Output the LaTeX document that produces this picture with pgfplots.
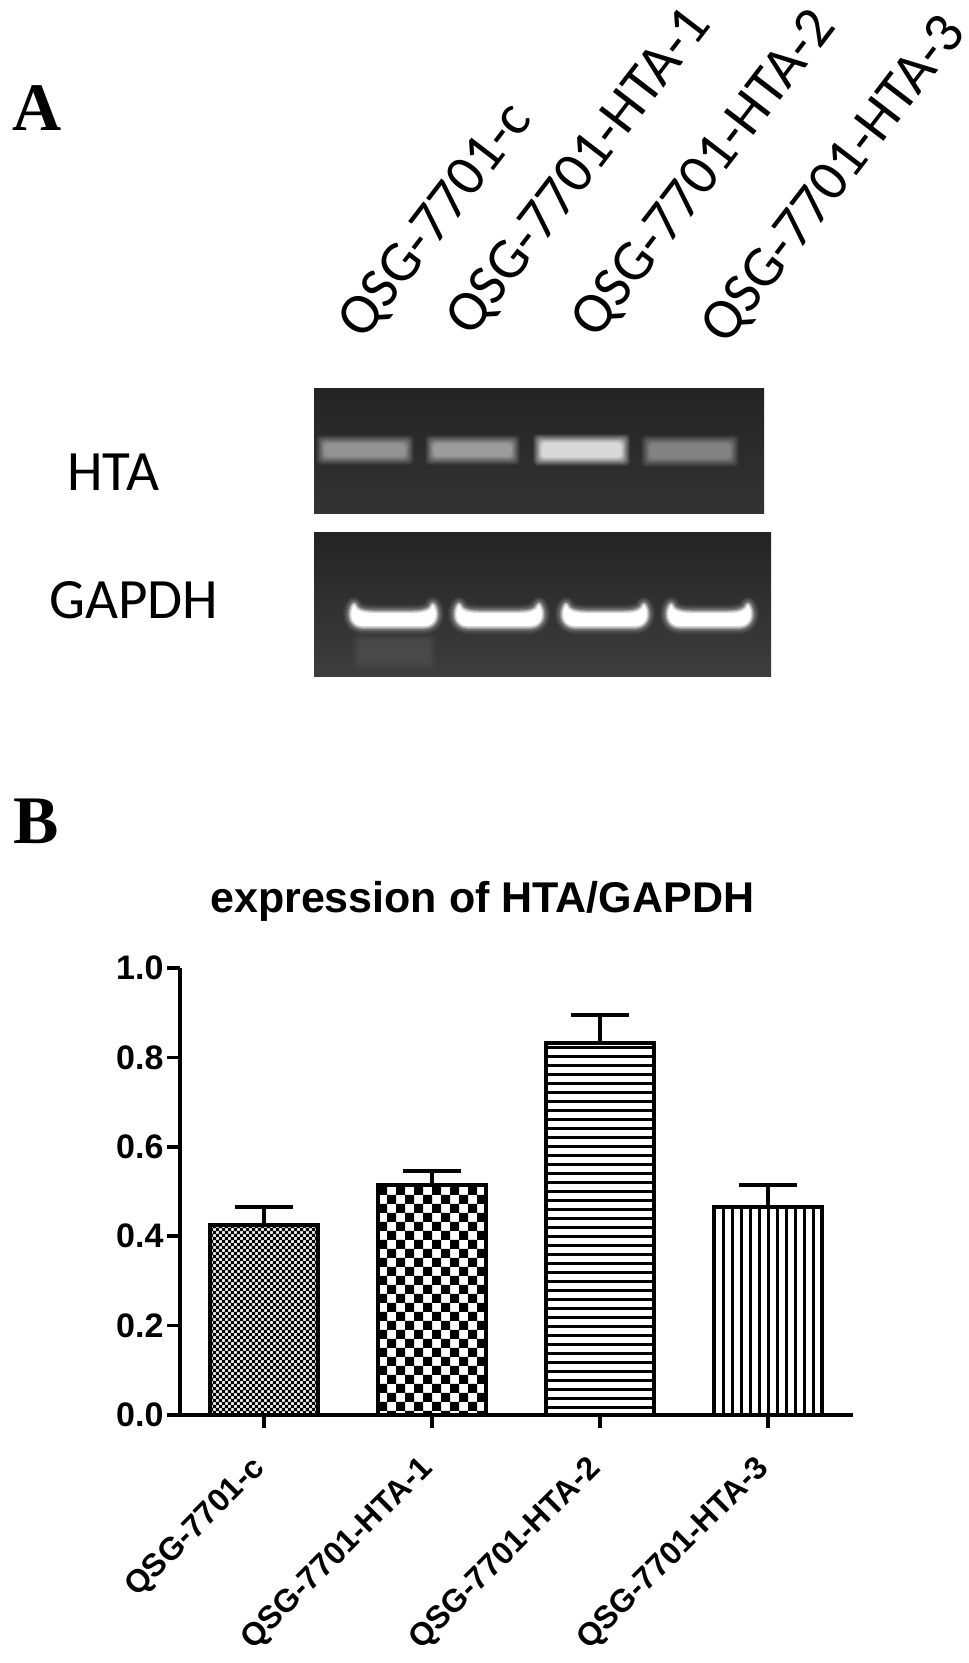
\documentclass[border=0pt]{standalone}
\usepackage{fontspec}
\setmainfont{Liberation Sans}
\newfontfamily\gelfont{Carlito}
\newfontfamily\panelfont{Liberation Serif}
\usepackage{pgfplots}
\pgfplotsset{compat=1.18}
\usetikzlibrary{patterns}

% bar fills, sizes in reference pixels; tiles overlap a little so no seams show
\pgfdeclarepatternformonly{fine check}{\pgfqpoint{-1pt}{-1pt}}{\pgfqpoint{7pt}{7pt}}{\pgfqpoint{6pt}{6pt}}{
  \pgfpathrectangle{\pgfqpoint{-0.2pt}{-0.2pt}}{\pgfqpoint{3.4pt}{3.4pt}}
  \pgfpathrectangle{\pgfqpoint{2.8pt}{2.8pt}}{\pgfqpoint{3.4pt}{3.4pt}}
  \pgfusepath{fill}}
\pgfdeclarepatternformonly{big check}{\pgfqpoint{-1pt}{-1pt}}{\pgfqpoint{19pt}{19pt}}{\pgfqpoint{18pt}{18pt}}{
  \pgfpathrectangle{\pgfpointorigin}{\pgfqpoint{9pt}{9pt}}
  \pgfpathrectangle{\pgfqpoint{9pt}{9pt}}{\pgfqpoint{9pt}{9pt}}
  \pgfusepath{fill}}
\pgfdeclarepatternformonly{hstripe}{\pgfqpoint{-1pt}{0pt}}{\pgfqpoint{10pt}{9pt}}{\pgfqpoint{9pt}{9pt}}{
  \pgfpathrectangle{\pgfqpoint{-1pt}{2pt}}{\pgfqpoint{11pt}{2.6pt}}
  \pgfusepath{fill}}
\pgfdeclarepatternformonly{vstripe}{\pgfqpoint{0pt}{-1pt}}{\pgfqpoint{9pt}{10pt}}{\pgfqpoint{9pt}{9pt}}{
  \pgfpathrectangle{\pgfqpoint{2pt}{-1pt}}{\pgfqpoint{2.6pt}{11pt}}
  \pgfusepath{fill}}

% soft gel band: x0, x1, y centre, half height, core grey (percent white)
\newcommand{\softband}[5]{%
  \foreach \m/\o in {7/0.08,6/0.1,5/0.12,4/0.14,3/0.16,2/0.2,1/0.25,0/0.3,-1/0.35,-2/0.4}{
    \fill[white!#5!black,opacity=\o,rounded corners=4]
      (#1-\m,#3-#4-\m) rectangle (#2+\m,#3+#4+\m);
  }}
% bright band with upturned ends
\newcommand{\uband}[2]{%
  \def\upath{(#1+4,605) .. controls (#1+6,611) and (#1+14,613) .. (#1+24,613)
    -- (#2-24,613) .. controls (#2-14,613) and (#2-6,611) .. (#2-4,605)
    .. controls (#2+1,612) and (#2,625) .. (#2-12,626) -- (#1+12,626)
    .. controls (#1,625) and (#1-1,612) .. (#1+4,605) -- cycle}
  \foreach \w/\o in {16/0.06,13/0.08,10/0.12,7/0.18,5/0.3,3/0.5}{
    \draw[white,line width=\w,opacity=\o,line join=round] \upath;
  }
  \fill[white] \upath;}

\begin{document}
\begin{tikzpicture}[x=1pt,y=-1pt]
\useasboundingbox (0,0) rectangle (969,1663);

% panel letters
\node[anchor=base west,inner sep=0pt,font=\panelfont\bfseries\fontsize{68}{68}\selectfont] at (12,130) {A};
\node[anchor=base west,inner sep=0pt,font=\panelfont\bfseries\fontsize{68}{68}\selectfont] at (13,843) {B};

% lane headings
\foreach \x/\y/\t in {363/342/QSG-7701-c,471/339/QSG-7701-HTA-1,596/341/QSG-7701-HTA-2,726/347/QSG-7701-HTA-3}{
  \node[anchor=base west,inner sep=0pt,rotate=52.5,font=\gelfont\fontsize{58}{58}\selectfont] at (\x,\y) {\t};
}
\node[anchor=base west,inner sep=0pt,font=\gelfont\fontsize{57}{57}\selectfont] at (67,490) {HTA};
\node[anchor=base west,inner sep=0pt,font=\gelfont\fontsize{57}{57}\selectfont] at (49,618) {GAPDH};

% gel photographs
\shade[top color=white!14!black,bottom color=white!20!black] (314,388) rectangle (764,513);
\shade[top color=white!14!black,bottom color=white!24!black] (314,532) rectangle (771,676);
\softband{323}{407}{450}{8}{62}
\softband{432}{513}{450}{8}{66}
\softband{540}{623}{450}{9}{92}
\softband{648}{732}{451}{9}{55}
\softband{358}{430}{652}{12}{30}
\uband{350}{437}
\uband{455}{543}
\uband{562}{648}
\uband{667}{752}

% bar chart
\begin{axis}[
    at={(180pt,-1415pt)}, anchor=south west,
    scale only axis, width=673pt, height=447pt,
    xmin=-0.5, xmax=3.506, ymin=0, ymax=1,
    axis x line=bottom, axis y line=left,
    axis line style={line width=4pt,-},
    ybar, bar shift=0pt, bar width=108pt,
    ytick={0,0.2,0.4,0.6,0.8,1},
    xtick={0,1,2,3},
    xticklabels={QSG-7701-c,QSG-7701-HTA-1,QSG-7701-HTA-2,QSG-7701-HTA-3},
    /pgf/number format/fixed,
    /pgf/number format/fixed zerofill,
    /pgf/number format/precision=1,
    /pgf/number format/assume math mode=true,
    yticklabel style={font=\bfseries\fontsize{34}{34}\selectfont,xshift=0pt},
    xticklabel style={font=\bfseries\fontsize{32}{32}\selectfont,rotate=45,anchor=north east,inner sep=0pt,xshift=-28pt,yshift=-8pt},
    major tick length=13pt,
    every tick/.style={black,line width=3.5pt},
    tick align=outside,
    title={expression of HTA/GAPDH},
    title style={font=\bfseries\fontsize{43}{43}\selectfont,at={(0.449,1)},anchor=base,yshift=50pt,inner sep=0pt},
    clip=false,
    error bars/y dir=plus,
    error bars/y explicit,
    error bars/error bar style={line width=4pt},
    error bars/error mark options={rotate=90,mark size=29pt,line width=4pt},
    every axis plot/.append style={draw=black,line width=4pt},
]
\addplot[pattern=fine check] coordinates {(0,0.425) +- (0,0.040)};
\addplot[pattern=big check] coordinates {(1,0.515) +- (0,0.031)};
\addplot[pattern=hstripe] coordinates {(2,0.832) +- (0,0.063)};
\addplot[pattern=vstripe] coordinates {(3,0.465) +- (0,0.050)};
\end{axis}
\end{tikzpicture}
\end{document}
